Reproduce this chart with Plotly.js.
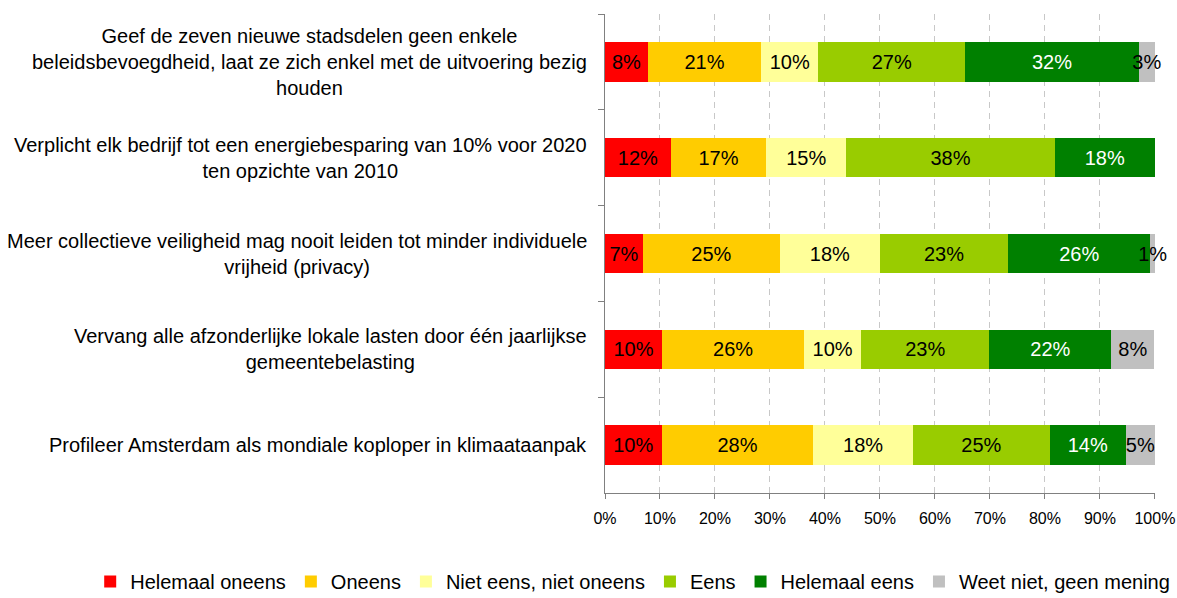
<!DOCTYPE html>
<html>
<head>
<meta charset="utf-8">
<script src="https://cdn.plot.ly/plotly-3.0.1.min.js"></script>
<style>html,body{margin:0;padding:0;background:#fff;}#chart{width:1177px;height:598px;}</style>
</head>
<body>
<div id="chart"></div>
<script>
const categories = [
  "Geef de zeven nieuwe stadsdelen geen enkele<br>beleidsbevoegdheid, laat ze zich enkel met de uitvoering bezig<br>houden",
  "Verplicht elk bedrijf tot een energiebesparing van 10% voor 2020<br>ten opzichte van 2010",
  "Meer collectieve veiligheid mag nooit leiden tot minder individuele<br>vrijheid (privacy)",
  "Vervang alle afzonderlijke lokale lasten door één jaarlijkse<br>gemeentebelasting",
  "Profileer Amsterdam als mondiale koploper in klimaataanpak"
];
const seriesNames = ["Helemaal oneens", "Oneens", "Niet eens, niet oneens", "Eens", "Helemaal eens", "Weet niet, geen mening"];
const helemaalOneens = [7.8, 12.0, 6.9, 10.4, 10.3];
const oneens        = [20.6, 17.3, 24.9, 25.8, 27.6];
const neutraal      = [10.4, 14.6, 18.2, 10.4, 18.1];
const eens          = [26.7, 37.9, 23.3, 23.3, 24.9];
const helemaalEens  = [31.6, 18.2, 25.9, 22.2, 13.8];
const weetNiet      = [2.9, null, 0.8, 7.8, 5.3];
const tickVals = [0, 10, 20, 30, 40, 50, 60, 70, 80, 90, 100];
const tickText = ["0%", "10%", "20%", "30%", "40%", "50%", "60%", "70%", "80%", "90%", "100%"];

const colors = ["#ff0000", "#ffcc00", "#ffff99", "#99cc00", "#008000", "#c0c0c0"];
const textColors = ["#000000", "#000000", "#000000", "#000000", "#ffffff", "#000000"];
const allSeries = [helemaalOneens, oneens, neutraal, eens, helemaalEens, weetNiet];

const FONT = "Liberation Sans, Arial, sans-serif";

const traces = allSeries.map((vals, i) => {
  const idx = vals.map((v, k) => k).filter(k => vals[k] != null && vals[k] > 0);
  const xs = idx.map(k => vals[k]);
  return {
    type: "bar",
    orientation: "h",
    name: seriesNames[i],
    y: idx.map(k => categories[k]),
    x: xs,
    marker: {color: colors[i], line: {width: 0}},
    text: xs.map(v => Math.round(v) + "%"),
    textposition: "inside",
    insidetextanchor: "middle",
    textangle: 0,
    constraintext: "none",
    cliponaxis: false,
    textfont: {family: FONT, size: 20, color: textColors[i]},
    insidetextfont: {family: FONT, size: 20, color: textColors[i]},
    hoverinfo: "name+x"
  };
});

const annotations = categories.map(c => ({
  text: c,
  xref: "paper", yref: "y",
  x: 0, y: c,
  xanchor: "right", yanchor: "middle",
  xshift: -16,
  align: "center",
  showarrow: false,
  font: {family: FONT, size: 20, color: "#000000"}
}));

const layout = {
  width: 1177, height: 598,
  margin: {l: 605, r: 22, t: 14, b: 105, autoexpand: false},
  barmode: "stack",
  bargap: 0.59,
  paper_bgcolor: "#ffffff",
  plot_bgcolor: "#ffffff",
  font: {family: FONT, size: 16, color: "#000000"},
  showlegend: true,
  legend: {
    orientation: "h",
    x: -0.936, xanchor: "left",
    y: -0.185, yanchor: "middle",
    font: {family: FONT, size: 20, color: "#000000"},
    itemwidth: 30,
    traceorder: "normal"
  },
  xaxis: {
    range: [0, 100.02],
    tickvals: tickVals,
    ticktext: tickText,
    showgrid: true,
    gridcolor: "#c8c8c8",
    griddash: "6px,5px",
    gridwidth: 1,
    zeroline: false,
    showline: true,
    linecolor: "#808080",
    linewidth: 1,
    ticks: "outside",
    ticklen: 5,
    tickcolor: "#808080",
    ticklabelstandoff: 6,
    tickfont: {family: FONT, size: 16, color: "#000000"},
    fixedrange: true
  },
  yaxis: {
    type: "category",
    categoryorder: "array",
    categoryarray: categories,
    autorange: "reversed",
    showticklabels: false,
    showline: true,
    linecolor: "#808080",
    linewidth: 1,
    ticks: "outside",
    tickson: "boundaries",
    ticklen: 6,
    tickcolor: "#808080",
    showgrid: false,
    zeroline: false,
    fixedrange: true
  },
  annotations: annotations
};

Plotly.newPlot("chart", traces, layout, {displayModeBar: false, staticPlot: true});
</script>
</body>
</html>
